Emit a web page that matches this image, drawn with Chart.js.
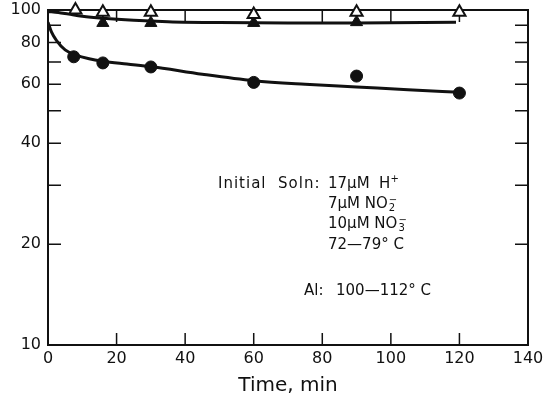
<!DOCTYPE html>
<html>
<head>
<meta charset="utf-8">
<script src="https://cdn.jsdelivr.net/npm/chart.js@4"></script>
<style>
  html, body { margin: 0; padding: 0; background: #fff; }
  #wrap { position: relative; width: 556px; height: 402px; }
  .note { position: absolute; font-family: "DejaVu Sans", sans-serif; font-size: 15px; color: #111; white-space: nowrap; line-height: 16px; }
  .ss { display: inline-block; vertical-align: middle; font-size: 10px; line-height: 8px; margin-left: 1px; }
  .ss span { display: block; }
  sup.s { font-size: 10px; vertical-align: 6px; line-height: 0; }
</style>
</head>
<body>
<div id="wrap">
  <canvas id="chart" width="556" height="402"></canvas>
  <div class="note" style="left:218px; top:175px; letter-spacing:1px;">Initial&nbsp; Soln:</div>
  <div class="note" style="left:328px; top:175px;">17μM&nbsp; H<sup class="s">+</sup></div>
  <div class="note" style="left:328px; top:195px;">7μM NO<span class="ss"><span>−</span><span>2</span></span></div>
  <div class="note" style="left:328px; top:215px;">10μM NO<span class="ss"><span>−</span><span>3</span></span></div>
  <div class="note" style="left:328px; top:236px;">72—79° C</div>
  <div class="note" style="left:304px; top:282px;">Al:</div>
  <div class="note" style="left:336px; top:282px;">100—112° C</div>
</div>
<script>
// 刻度
const timeTicks = [0, 20, 40, 60, 80, 100, 120, 140];
const pctTicks = [10, 20, 30, 40, 50, 60, 70, 80, 90, 100];
const pctLabelled = [10, 20, 40, 60, 80, 100];

// 数据点
const openTriX = [8, 16, 30, 60, 90, 120];
const openTriY = [100, 98.5, 98.5, 97, 98.5, 98.5];
const filledTriX = [16, 30, 60, 90];
const filledTriY = [91.5, 91.5, 91.5, 92];
const circleX = [7.5, 16, 30, 60, 90, 120];
const circleY = [72.5, 69.5, 67.6, 60.8, 63.5, 56.5];

// 拟合曲线
const upperCurveX = [0, 3, 6, 10, 16, 25, 35, 50, 70, 90, 119];
const upperCurveY = [99, 98.3, 97.2, 95.8, 94.5, 93.2, 92.3, 91.7, 91.4, 91.5, 92];
const lowerCurveX = [0, 1, 2.5, 5, 8, 12, 16, 23, 30, 45, 60, 75, 90, 105, 120];
const lowerCurveY = [92, 86, 81, 76, 73.5, 71.5, 70.3, 69, 67.8, 64.3, 61.5, 60, 58.9, 57.8, 56.8];

const pts = (xs, ys) => xs.map((x, i) => ({ x: x, y: ys[i] }));

// 框线和内向刻度
const framePlugin = {
  id: 'frame',
  beforeDatasetsDraw(chart) {
    const ctx = chart.ctx;
    const a = chart.chartArea;
    const xs = chart.scales.x, ys = chart.scales.y;
    ctx.save();
    ctx.strokeStyle = '#111';
    ctx.lineWidth = 2;
    ctx.strokeRect(a.left, a.top, a.right - a.left, a.bottom - a.top);
    ctx.lineWidth = 1.5;
    ctx.beginPath();
    timeTicks.slice(1, -1).forEach(v => {
      const px = xs.getPixelForValue(v);
      ctx.moveTo(px, a.bottom); ctx.lineTo(px, a.bottom - 12);
      ctx.moveTo(px, a.top); ctx.lineTo(px, a.top + 12);
    });
    pctTicks.slice(1, -1).forEach(v => {
      const py = ys.getPixelForValue(v);
      ctx.moveTo(a.left, py); ctx.lineTo(a.left + 13, py);
      ctx.moveTo(a.right, py); ctx.lineTo(a.right - 13, py);
    });
    ctx.stroke();
    ctx.restore();
  }
};

new Chart(document.getElementById('chart'), {
  type: 'scatter',
  data: {
    datasets: [
      {
        data: pts(openTriX, openTriY),
        pointStyle: 'triangle', pointRadius: 7, clip: false,
        backgroundColor: '#fff', borderColor: '#111', borderWidth: 2
      },
      {
        data: pts(filledTriX, filledTriY),
        pointStyle: 'triangle', pointRadius: 7, clip: false,
        backgroundColor: '#111', borderColor: '#111', borderWidth: 1
      },
      {
        data: pts(circleX, circleY),
        pointStyle: 'circle', pointRadius: 6, clip: false,
        backgroundColor: '#111', borderColor: '#111', borderWidth: 1
      },
      {
        data: pts(upperCurveX, upperCurveY),
        showLine: true, pointRadius: 0, borderColor: '#111', borderWidth: 3,
        cubicInterpolationMode: 'monotone'
      },
      {
        data: pts(lowerCurveX, lowerCurveY),
        showLine: true, pointRadius: 0, borderColor: '#111', borderWidth: 3,
        cubicInterpolationMode: 'monotone'
      }
    ]
  },
  options: {
    responsive: false,
    animation: false,
    layout: { padding: { left: 0, right: 28, top: 10, bottom: 0 } },
    plugins: { legend: { display: false }, tooltip: { enabled: false } },
    scales: {
      x: {
        type: 'linear', min: 0, max: 140,
        afterBuildTicks: s => { s.ticks = timeTicks.map(v => ({ value: v })); },
        afterFit: s => { s.height = 57; s.paddingLeft = 0; s.paddingRight = 0; },
        grid: { display: false, drawTicks: false },
        border: { display: false },
        ticks: { padding: 4, color: '#111', font: { family: 'DejaVu Sans', size: 16 } },
        title: { display: true, text: 'Time, min', color: '#111', padding: { top: 6 },
                 font: { family: 'DejaVu Sans', size: 20 } }
      },
      y: {
        type: 'logarithmic', min: 10, max: 100,
        afterBuildTicks: s => { s.ticks = pctTicks.map(v => ({ value: v })); },
        afterFit: s => { s.width = 48; s.paddingTop = 0; s.paddingBottom = 0; },
        grid: { display: false, drawTicks: false },
        border: { display: false },
        ticks: {
          padding: 7, color: '#111', font: { family: 'DejaVu Sans', size: 16 },
          callback: v => pctLabelled.includes(v) ? String(v) : ''
        }
      }
    }
  },
  plugins: [framePlugin]
});
</script>
</body>
</html>
